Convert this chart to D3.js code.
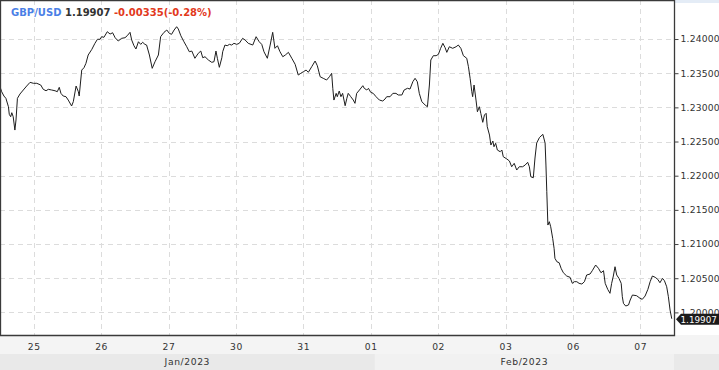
<!DOCTYPE html>
<html><head><meta charset="utf-8">
<script src="https://cdn.jsdelivr.net/npm/d3@7"></script>
<style>
html,body{margin:0;padding:0;background:#fff;}
svg{display:block;font-family:"DejaVu Sans",sans-serif;}
</style></head>
<body><svg id="c" width="719" height="370"></svg>
<script>
// ---- data (hour index from Jan 24 12:00, trading hours only) ----
const symbol = "GBP/USD";
const lastPrice = "1.19907";
const change = "-0.00335(-0.28%)";
const hours = [0,0.6,1.4,2.1,3.0,3.3,3.8,4.2,4.7,5.3,5.7,6.2,7.1,8.3,9.5,10.7,11.9,13.1,14.5,15.4,16.4,17.2,18.4,19.6,20.4,21.1,21.7,22.5,23.5,24.3,25.5,26.1,27.1,27.9,28.2,29.1,29.9,30.6,31.4,32.7,33.8,34.7,35.6,36.2,37.0,38.2,39.2,40.1,41.0,42.1,43.3,44.5,45.3,46.3,46.9,47.7,48.4,49.3,50.1,50.8,51.6,52.2,53.2,54.2,55.2,56.4,57.2,58.4,59.4,60.3,61.1,62.0,62.9,63.5,64.4,65.5,66.5,67.4,68.3,69.4,70.6,71.5,72.2,73.0,74.2,75.4,76.2,76.9,77.4,78.1,79.0,79.3,80.1,80.9,81.7,82.5,83.3,84.3,85.2,86.4,87.3,88.4,90.0,91.2,92.3,93.2,94.0,95.2,96.2,97.1,97.9,98.8,99.7,100.7,101.6,102.7,103.9,105.1,106.2,107.1,108.0,109.0,109.8,111.0,112.2,113.0,114.0,115.1,116.3,117.3,118.1,118.5,118.9,119.7,120.1,120.8,121.4,122.0,122.9,123.5,124.0,124.9,125.8,126.4,127.0,128.0,129.2,129.7,130.6,131.2,132.0,132.9,133.9,135.1,136.3,137.1,137.7,138.9,139.9,141.0,141.8,143.1,143.9,145.1,146.0,147.0,147.8,148.6,149.3,150.2,151.4,152.2,152.9,153.4,154.3,155.3,156.1,156.9,157.7,158.5,159.1,160.0,161.2,162.4,163.2,164.1,165.0,166.2,166.8,167.4,168.0,168.3,168.8,169.5,170.0,170.7,171.2,171.9,172.5,173.1,173.5,174.3,174.8,175.5,175.9,176.5,177.1,178.1,178.7,179.2,180.5,181.4,182.2,183.1,184.0,184.9,186.1,187.0,187.9,188.5,189.0,189.9,190.5,191.1,192.1,193.3,194.1,194.4,194.7,195.1,195.6,196.1,196.8,197.3,197.6,198.3,199.1,199.8,200.6,201.8,203.0,203.8,204.5,205.4,206.2,207.2,208.1,208.9,210.1,210.9,212.1,213.1,214.0,214.9,215.5,216.4,217.2,217.8,218.4,219.0,219.6,220.4,221.2,221.6,222.0,222.8,223.8,224.4,225.2,226.7,227.9,228.7,229.7,230.7,231.5,232.3,233.3,234.2,235.0,235.9,236.6,237.4,238.0,238.6,239.2];
const prices = [1.23302,1.23229,1.23166,1.23132,1.23009,1.22898,1.22863,1.22922,1.22863,1.22668,1.22815,1.23132,1.23195,1.23254,1.23312,1.23366,1.23352,1.23352,1.23327,1.23264,1.23243,1.23264,1.23254,1.23243,1.23229,1.23293,1.23205,1.23166,1.23156,1.23107,1.23020,1.23083,1.23312,1.23229,1.23166,1.23546,1.23580,1.23644,1.23766,1.23849,1.23937,1.23996,1.23996,1.24034,1.24025,1.24107,1.24073,1.24092,1.24019,1.23971,1.24010,1.24019,1.24048,1.24098,1.23985,1.23902,1.23854,1.23960,1.23922,1.23952,1.23922,1.23912,1.23766,1.23571,1.23668,1.23766,1.24034,1.24098,1.24132,1.24083,1.24069,1.24132,1.24180,1.24146,1.24048,1.23960,1.23887,1.23814,1.23824,1.23718,1.23791,1.23824,1.23726,1.23741,1.23693,1.23659,1.23668,1.23824,1.23718,1.23586,1.23726,1.23814,1.23912,1.23902,1.23922,1.23912,1.23937,1.23922,1.23937,1.24010,1.23985,1.23937,1.23912,1.24034,1.23960,1.23922,1.23814,1.23718,1.23912,1.24098,1.23864,1.23902,1.23814,1.23741,1.23766,1.23805,1.23718,1.23630,1.23473,1.23498,1.23521,1.23546,1.23513,1.23595,1.23678,1.23609,1.23448,1.23425,1.23400,1.23448,1.23498,1.23279,1.23107,1.23205,1.23156,1.23239,1.23156,1.23205,1.23024,1.23132,1.23205,1.23156,1.23107,1.23059,1.23205,1.23254,1.23317,1.23279,1.23254,1.23279,1.23220,1.23205,1.23156,1.23107,1.23093,1.23122,1.23156,1.23156,1.23205,1.23205,1.23181,1.23181,1.23254,1.23279,1.23268,1.23375,1.23425,1.23375,1.23205,1.23083,1.23034,1.23009,1.23327,1.23693,1.23756,1.23756,1.23776,1.23864,1.23937,1.23873,1.23805,1.23887,1.23864,1.23887,1.23912,1.23864,1.23756,1.23718,1.23595,1.23425,1.23229,1.23156,1.23327,1.23107,1.22936,1.23009,1.22913,1.22781,1.22888,1.22913,1.22717,1.22595,1.22449,1.22507,1.22424,1.22474,1.22376,1.22351,1.22376,1.22278,1.22244,1.22215,1.22131,1.22181,1.22083,1.22131,1.22131,1.22156,1.22196,1.22131,1.21985,1.21970,1.22259,1.22478,1.22559,1.22605,1.22478,1.22156,1.21766,1.21278,1.21327,1.21253,1.21084,1.20937,1.20791,1.20741,1.20727,1.20645,1.20580,1.20532,1.20513,1.20425,1.20449,1.20449,1.20425,1.20415,1.20449,1.20547,1.20561,1.20610,1.20693,1.20645,1.20580,1.20610,1.20425,1.20337,1.20279,1.20425,1.20532,1.20668,1.20547,1.20498,1.20425,1.20229,1.20132,1.20093,1.20108,1.20181,1.20254,1.20244,1.20206,1.20191,1.20239,1.20337,1.20449,1.20532,1.20513,1.20484,1.20434,1.20498,1.20463,1.20375,1.20229,1.20034,1.19907];
const dayLabels = ["25","26","27","30","31","01","02","03","06","07"];
const monthLabels = ["Jan/2023","Feb/2023"];
const priceTicks = [1.20,1.205,1.21,1.215,1.22,1.225,1.23,1.235,1.24];

// ---- layout ----
const svg = d3.select("#c");
const W = 719, H = 370;
const plotR = 674, plotB = 335, row1B = 354;
const x = d3.scaleLinear().domain([0, 240]).range([0, plotR]);
const y = d3.scaleLinear().domain([1.19669, 1.24571]).range([plotB, 0]);
const dayHour = i => 12 + 24 * i;

// backgrounds
svg.append("rect").attr("x",0).attr("y",0).attr("width",W).attr("height",H).attr("fill","#fff");
svg.append("rect").attr("x",plotR).attr("y",0).attr("width",W-plotR).attr("height",3).attr("fill","#e4ecf6");
svg.append("rect").attr("x",0).attr("y",plotB).attr("width",W).attr("height",row1B-plotB).attr("fill","#f4f4f4");
svg.append("rect").attr("x",0).attr("y",row1B).attr("width",W).attr("height",H-row1B).attr("fill","#e9e9e9");
const febStart = x(dayHour(5)) + 4;
svg.append("rect").attr("x",febStart).attr("y",row1B).attr("width",plotR-febStart).attr("height",H-row1B).attr("fill","#f1f1f1");

// grid
const grid = svg.append("g").attr("stroke","#dcdcdc").attr("stroke-dasharray","5,4").attr("stroke-width",1);
priceTicks.forEach(p => {
  const yy = Math.round(y(p)) + 0.5;
  grid.append("line").attr("x1",0).attr("x2",plotR).attr("y1",yy).attr("y2",yy);
});
dayLabels.forEach((d,i) => {
  const xx = Math.round(x(dayHour(i))) + 0.5;
  grid.append("line").attr("x1",xx).attr("x2",xx).attr("y1",0).attr("y2",plotB);
});

// line
const line = d3.line().x((d,i)=>x(hours[i])).y(d=>y(d));
svg.append("path").datum(prices).attr("d",line).attr("fill","none")
  .attr("stroke","#1e1e1e").attr("stroke-width",1).attr("stroke-linejoin","round");

// frame
svg.append("path").attr("d",`M0.5,${plotB}V0.5H${plotR+0.5}V${plotB+0.5}H0`)
  .attr("fill","none").attr("stroke","#3a3a3a").attr("stroke-width",1.3);

// right axis
const yAxis = d3.axisRight(y).tickValues(priceTicks).tickFormat(d3.format(".5f")).tickSize(4).tickPadding(2);
const ya = svg.append("g").attr("transform",`translate(${plotR+0.5},0)`).call(yAxis);
ya.select(".domain").remove();
ya.selectAll("line").attr("stroke","#444");
ya.selectAll("text").attr("fill","#333").attr("font-size","9.2px").attr("font-family","DejaVu Sans").attr("letter-spacing","0.2px");

// bottom axis labels
const xAxis = d3.axisBottom(x).tickValues(dayLabels.map((d,i)=>dayHour(i))).tickFormat((d,i)=>dayLabels[i]).tickSize(0).tickPadding(8);
const xa = svg.append("g").attr("transform",`translate(0,${plotB})`).call(xAxis);
xa.select(".domain").remove();
xa.selectAll("text").attr("fill","#333").attr("font-size","9.2px").attr("font-family","DejaVu Sans").attr("letter-spacing","0.6px");

// month labels
const monthCenters = [febStart/2, (febStart+plotR)/2];
monthLabels.forEach((m,i)=>{
  svg.append("text").attr("x",monthCenters[i]).attr("y",365).attr("text-anchor","middle")
    .attr("fill","#333").attr("font-size","9.2px").attr("letter-spacing","0.6px").text(m);
});

// last price tag
const ly = y(prices[prices.length-1]);
svg.append("path").attr("d",`M${plotR+2},${ly+0.5}L${plotR+7},${ly-5}H${W}V${ly+6}H${plotR+7}Z`).attr("fill","#1b1b1b");
svg.append("text").attr("x",plotR+6.5).attr("y",ly+4.3).attr("fill","#fff").attr("font-size","8.8px")
  .text(lastPrice);

// title
const t = svg.append("text").attr("x",11).attr("y",16).attr("font-size","10px").attr("font-weight","bold");
t.append("tspan").attr("fill","#4b7fe6").text(symbol);
t.append("tspan").attr("fill","#333").text(" " + lastPrice);
t.append("tspan").attr("fill","#e2391c").text(" " + change);
</script></body></html>
